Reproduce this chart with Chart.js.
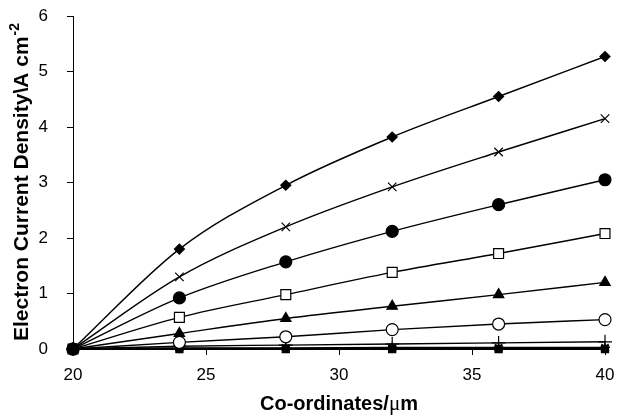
<!DOCTYPE html>
<html>
<head>
<meta charset="utf-8">
<script src="https://cdn.jsdelivr.net/npm/chart.js@4.4.0/dist/chart.umd.min.js"></script>
<style>
  html, body { margin: 0; padding: 0; background: #fff; }
  #wrap { width: 618px; height: 419px; position: relative; }
</style>
</head>
<body>
<div id="wrap"><canvas id="currentChart"></canvas></div>
<script>
// co-ordinates where values were taken
const coords = [20, 24, 28, 32, 36, 40];

// electron current density series (A cm-2), top to bottom
const diamondVals = [0, 1.80, 2.95, 3.82, 4.55, 5.27];
const crossVals   = [0, 1.30, 2.20, 2.92, 3.55, 4.15];
const dotVals     = [0, 0.92, 1.57, 2.12, 2.60, 3.05];
const squareVals  = [0, 0.57, 0.98, 1.38, 1.72, 2.08];
const triVals     = [0, 0.28, 0.55, 0.77, 0.98, 1.20];
const ringVals    = [0, 0.12, 0.22, 0.35, 0.45, 0.53];
const plusVals    = [0, 0.05, 0.07, 0.09, 0.11, 0.13];
const starVals    = [0, 0.02, 0.02, 0.03, 0.03, 0.03];
const smallTriVals = [0, 0.01, 0.01, 0.01, 0.01, 0.01];
const flatVals    = [0, 0, 0, 0, 0, 0];

const xTicks = [20, 25, 30, 35, 40];
const yTicks = [0, 1, 2, 3, 4, 5, 6];

const toPoints = vals => coords.map((c, i) => ({ x: c, y: vals[i] }));

function series(vals, style, radius, fill) {
  return {
    data: toPoints(vals),
    borderColor: '#000',
    borderWidth: 1.4,
    pointStyle: style,
    pointRadius: radius,
    pointBorderWidth: 1.2,
    pointBorderColor: '#000',
    pointBackgroundColor: fill,
    cubicInterpolationMode: 'monotone',
    fill: false,
    clip: 10
  };
}

const datasets = [
  series(diamondVals, 'rectRot', 5, '#000'),
  series(crossVals, 'crossRot', 6, '#000'),
  series(dotVals, 'circle', 6, '#000'),
  series(squareVals, 'rect', 7, '#fff'),
  series(triVals, 'triangle', 6, '#000'),
  series(ringVals, 'circle', 6, '#fff'),
  series(plusVals, 'cross', 7, '#000'),
  series(starVals, 'star', 5, '#000'),
  series(smallTriVals, 'triangle', 4, '#000'),
  series(flatVals, 'rect', 5, '#000')
];

const boldFont = size => `bold ${size}px "Liberation Sans", Arial, sans-serif`;

// axis titles drawn by hand (superscript and serif mu like the original)
const titles = {
  id: 'titles',
  afterDraw(chart) {
    const c = chart.ctx;
    const { left, right, top, bottom } = chart.chartArea;
    c.save();
    c.fillStyle = '#000';
    // y title
    c.translate(22, (top + bottom) / 2);
    c.rotate(-Math.PI / 2);
    const main = 'Electron Current Density\\A cm';
    const sup = '-2';
    c.font = boldFont(21);
    const wMain = c.measureText(main).width;
    c.font = boldFont(14);
    const wSup = c.measureText(sup).width;
    const start = -(wMain + wSup) / 2;
    c.textBaseline = 'middle';
    c.textAlign = 'left';
    c.font = boldFont(21);
    c.fillText(main, start, 0);
    c.font = boldFont(14);
    c.fillText(sup, start + wMain + 1, -7);
    c.restore();

    // x title
    c.save();
    c.fillStyle = '#000';
    c.textBaseline = 'middle';
    c.textAlign = 'left';
    const a = 'Co-ordinates/';
    const mu = 'μ';
    const m = 'm';
    c.font = boldFont(20);
    const wa = c.measureText(a).width;
    const wm = c.measureText(m).width;
    c.font = '21px "Liberation Serif", serif';
    const wmu = c.measureText(mu).width;
    let x = (left + right) / 2 - (wa + wmu + wm) / 2;
    const y = 404;
    c.font = boldFont(20);
    c.fillText(a, x, y);
    x += wa;
    c.font = '21px "Liberation Serif", serif';
    c.fillText(mu, x, y);
    x += wmu;
    c.font = boldFont(20);
    c.fillText(m, x, y);
    c.restore();
  }
};

const tickFont = { family: '"Liberation Sans", Arial, sans-serif', size: 17 };

new Chart(document.getElementById('currentChart'), {
  type: 'line',
  data: { datasets },
  options: {
    responsive: true,
    maintainAspectRatio: false,
    animation: false,
    layout: { padding: { top: 16, right: 13, left: 0, bottom: 0 } },
    plugins: {
      legend: { display: false },
      tooltip: { enabled: false }
    },
    scales: {
      x: {
        type: 'linear',
        min: 20,
        max: 40,
        afterBuildTicks: s => { s.ticks = xTicks.map(v => ({ value: v })); },
        afterFit: s => { s.height = 70; s.paddingLeft = 0; s.paddingRight = 0; },
        ticks: { color: '#000', font: tickFont, padding: 10, maxRotation: 0 },
        grid: { drawOnChartArea: false, tickLength: 6, color: '#000', lineWidth: 1 },
        border: { display: true, color: '#000', width: 1 }
      },
      y: {
        min: 0,
        max: 6,
        afterBuildTicks: s => { s.ticks = yTicks.map(v => ({ value: v })); },
        afterFit: s => { s.width = 73; s.paddingTop = 0; s.paddingBottom = 0; },
        ticks: { color: '#000', font: tickFont, padding: 19 },
        grid: { drawOnChartArea: false, tickLength: 6, color: '#000', lineWidth: 1 },
        border: { display: true, color: '#000', width: 1 }
      }
    }
  },
  plugins: [titles]
});
</script>
</body>
</html>
